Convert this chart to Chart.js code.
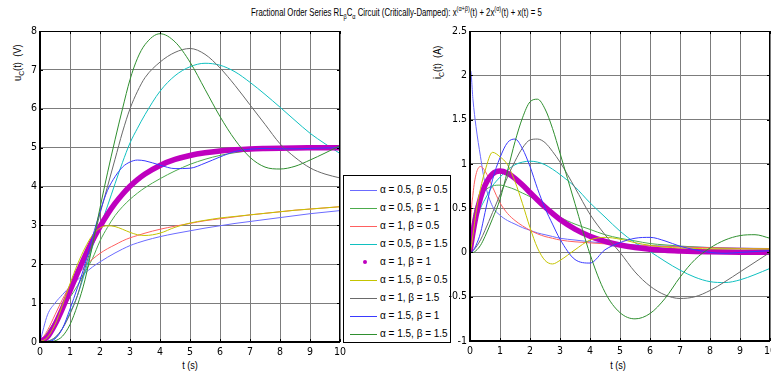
<!DOCTYPE html>
<html>
<head>
<meta charset="utf-8">
<script src="https://cdn.jsdelivr.net/npm/chart.js@4.4.1/dist/chart.umd.min.js"></script>
<style>
  body { margin: 0; background: #fff; }
  #wrap { position: relative; width: 771px; height: 376px; overflow: hidden; font-family: "Liberation Sans", Arial, sans-serif; color: #000; }
  canvas { position: absolute; top: 0; }
  #uChart { left: 0; z-index: 1; }
  #iChart { left: 430px; z-index: 3; }
  .narrow { font-family: "Liberation Sans", Arial, sans-serif; }
  #title { position: absolute; top: 4px; left: 0; width: 792px; text-align: center; font-size: 10.5px; white-space: nowrap; }
  #title span { display: inline-block; transform: scaleX(0.74); transform-origin: center; }
  #title sub, #title sup { font-size: 7.5px; }
  .ylab { position: absolute; font-size: 11px; line-height: 13px; white-space: nowrap; transform-origin: left top; transform: rotate(-90deg) scaleX(0.85); }
  .ylab sub { font-size: 8px; }
  .xlab { position: absolute; top: 359px; width: 40px; text-align: center; font-size: 11px; line-height: 13px; transform: scaleX(0.83); }
  #legend { position: absolute; left: 343px; top: 175px; width: 106px; height: 166px; border: 1px solid #000; background: #fff; font-size: 10px; z-index: 2; }
  .row { position: absolute; left: 0; width: 100%; height: 14px; }
  .swatch { position: absolute; left: 6px; top: 7px; width: 27px; height: 0; border-top: 1px solid; }
  .dot { position: absolute; left: 19px; top: 5px; width: 4px; height: 4px; border-radius: 2px; }
  .lbl { position: absolute; left: 36px; top: 0; line-height: 14px; white-space: nowrap; }
</style>
</head>
<body>
<div id="wrap">
  <canvas id="uChart" width="354" height="376"></canvas>
  <canvas id="iChart" width="341" height="376"></canvas>
  <div id="title" class="narrow"><span>Fractional Order Series RL<sub>β</sub>C<sub>α</sub> Circuit (Critically-Damped): x<sup>(α+β)</sup>(t) + 2x<sup>(α)</sup>(t) + x(t) = 5</span></div>
  <div class="ylab narrow" style="left:11px; top:81px;">u<sub>C</sub>(t)&nbsp;&nbsp;(V)</div>
  <div class="ylab narrow" style="left:431px; top:79px;">i<sub>C</sub>(t)&nbsp;&nbsp;(A)</div>
  <div class="xlab narrow" style="left:170px;">t (s)</div>
  <div class="xlab narrow" style="left:598px;">t (s)</div>
  <div id="legend"></div>
</div>
<script>
// time grids (s)
const tU = [0, 0.25, 0.5, 0.75, 1, 1.25, 1.5, 1.75, 2, 2.25, 2.5, 2.75, 3, 3.25, 3.5, 4, 4.5, 5, 5.5, 6, 6.5, 7, 7.5, 8, 8.5, 9, 9.5, 10]
const tI = [0, 0.02, 0.1, 0.2, 0.35, 0.5, 0.75, 1, 1.25, 1.5, 1.75, 2, 2.25, 2.5, 2.75, 3, 3.5, 4, 4.5, 5, 5.5, 6, 6.5, 7, 7.5, 8, 8.5, 9, 9.5, 10]

const labels = [
  "α = 0.5, β = 0.5", "α = 0.5, β = 1", "α = 1, β = 0.5",
  "α = 0.5, β = 1.5", "α = 1, β = 1", "α = 1.5, β = 0.5",
  "α = 1, β = 1.5", "α = 1.5, β = 1", "α = 1.5, β = 1.5"
]
const colors = ["#6b6bff", "#4cab4c", "#ff6060", "#10c0c0", "#bf00bf", "#c4c400", "#6a6a6a", "#3a3aff", "#2f8f2f"]

// capacitor voltage uC(t), V
const uC1 = [0, 0.7, 1.0, 1.22, 1.42, 1.6, 1.77, 1.93, 2.06, 2.18, 2.29, 2.39, 2.48, 2.55, 2.61, 2.71, 2.79, 2.86, 2.93, 2.99, 3.05, 3.1, 3.15, 3.2, 3.25, 3.3, 3.34, 3.38]
const uC2 = [0, 0.25, 0.55, 0.85, 1.15, 1.45, 1.8, 2.15, 2.6, 2.95, 3.25, 3.48, 3.67, 3.83, 3.97, 4.2, 4.4, 4.57, 4.7, 4.8, 4.87, 4.92, 4.96, 4.98, 5.0, 5.02, 5.04, 5.05]
const uC3 = [0, 0.3, 0.7, 1.1, 1.45, 1.72, 1.95, 2.13, 2.28, 2.4, 2.5, 2.6, 2.68, 2.74, 2.8, 2.9, 2.98, 3.05, 3.12, 3.17, 3.22, 3.27, 3.31, 3.35, 3.39, 3.42, 3.45, 3.48]
const uC4 = [0, 0.02, 0.1, 0.35, 0.75, 1.2, 1.8, 2.45, 2.95, 3.5, 4.07, 4.62, 5.12, 5.5, 5.85, 6.45, 6.85, 7.08, 7.17, 7.12, 6.95, 6.68, 6.37, 6.04, 5.7, 5.37, 5.1, 4.85]
const uC5 = [0, 0.133, 0.451, 0.866, 1.321, 1.777, 2.211, 2.611, 2.97, 3.287, 3.564, 3.801, 4.004, 4.176, 4.321, 4.542, 4.695, 4.798, 4.867, 4.913, 4.944, 4.964, 4.976, 4.985, 4.991, 4.994, 4.996, 4.998]
const uC6 = [0, 0.12, 0.45, 0.95, 1.5, 2.0, 2.42, 2.75, 2.93, 2.99, 2.97, 2.9, 2.82, 2.76, 2.74, 2.8, 2.95, 3.06, 3.13, 3.19, 3.23, 3.27, 3.31, 3.35, 3.39, 3.42, 3.45, 3.48]
const uC7 = [0, 0.02, 0.12, 0.35, 0.72, 1.2, 1.9, 2.55, 3.3, 4.0, 4.7, 5.4, 6.0, 6.45, 6.8, 7.2, 7.45, 7.55, 7.4, 7.05, 6.6, 6.1, 5.6, 5.1, 4.75, 4.48, 4.32, 4.22]
const uC8 = [0, 0.01, 0.08, 0.35, 0.85, 1.4, 2.0, 2.7, 3.35, 3.9, 4.25, 4.5, 4.63, 4.68, 4.66, 4.55, 4.46, 4.47, 4.6, 4.76, 4.9, 4.96, 4.98, 4.97, 4.97, 4.98, 4.99, 5.0]
const uC9 = [0, 0, 0.03, 0.15, 0.45, 0.95, 1.6, 2.5, 3.45, 4.35, 5.2, 6.0, 6.75, 7.3, 7.65, 7.93, 7.72, 7.2, 6.5, 5.8, 5.2, 4.75, 4.5, 4.45, 4.52, 4.68, 4.86, 5.05]

// capacitor current iC(t), A
const iC1 = [0, 2.05, 1.72, 1.42, 1.08, 0.78, 0.52, 0.42, 0.36, 0.32, 0.28, 0.25, 0.22, 0.2, 0.18, 0.16, 0.14, 0.12, 0.105, 0.095, 0.085, 0.078, 0.072, 0.066, 0.06, 0.056, 0.052, 0.049, 0.046, 0.044]
const iC2 = [0, 0.15, 0.38, 0.52, 0.63, 0.7, 0.75, 0.76, 0.74, 0.71, 0.67, 0.63, 0.58, 0.52, 0.46, 0.4, 0.32, 0.26, 0.2, 0.16, 0.13, 0.1, 0.085, 0.072, 0.062, 0.054, 0.048, 0.043, 0.039, 0.036]
const iC3 = [0, 0.3, 0.66, 0.88, 0.97, 0.92, 0.74, 0.56, 0.44, 0.36, 0.3, 0.25, 0.21, 0.18, 0.16, 0.14, 0.12, 0.108, 0.097, 0.088, 0.08, 0.073, 0.067, 0.062, 0.057, 0.053, 0.05, 0.047, 0.044, 0.042]
const iC4 = [0, 0.05, 0.2, 0.35, 0.5, 0.6, 0.75, 0.85, 0.93, 0.99, 1.02, 1.03, 1.02, 0.99, 0.94, 0.88, 0.74, 0.56, 0.4, 0.24, 0.11, 0.01, -0.1, -0.2, -0.28, -0.33, -0.34, -0.31, -0.25, -0.18]
const iC5 = [0, 0.049, 0.226, 0.409, 0.617, 0.758, 0.886, 0.92, 0.895, 0.837, 0.76, 0.677, 0.593, 0.513, 0.44, 0.373, 0.264, 0.183, 0.125, 0.084, 0.056, 0.037, 0.024, 0.016, 0.01, 0.0067, 0.0043, 0.0028, 0.0018, 0.0011]
const iC6 = [0, 0.02, 0.2, 0.45, 0.72, 0.92, 1.13, 1.08, 0.99, 0.8, 0.55, 0.28, 0.05, -0.09, -0.13, -0.09, 0.03, 0.14, 0.17, 0.15, 0.11, 0.08, 0.06, 0.05, 0.045, 0.04, 0.04, 0.04, 0.04, 0.04]
const iC7 = [0, 0, 0.02, 0.06, 0.14, 0.25, 0.45, 0.65, 0.85, 1.03, 1.18, 1.27, 1.28, 1.24, 1.14, 1.02, 0.73, 0.43, 0.2, 0.0, -0.22, -0.38, -0.48, -0.52, -0.5, -0.43, -0.33, -0.22, -0.11, 0.0]
const iC8 = [0, 0, 0.02, 0.08, 0.22, 0.45, 0.82, 1.07, 1.24, 1.28, 1.17, 0.97, 0.72, 0.5, 0.32, 0.15, -0.08, -0.12, 0.03, 0.11, 0.16, 0.17, 0.13, 0.07, 0.03, 0.0, -0.01, 0.0, 0.01, 0.02]
const iC9 = [0, 0, 0, 0.02, 0.08, 0.18, 0.38, 0.6, 0.92, 1.25, 1.52, 1.7, 1.73, 1.62, 1.4, 1.12, 0.55, -0.02, -0.45, -0.68, -0.75, -0.69, -0.52, -0.28, -0.08, 0.05, 0.14, 0.19, 0.2, 0.16]

const TICK_FONT = { family: "'DejaVu Sans Condensed', 'Liberation Sans', sans-serif", size: 10.5 }

function buildSets (t, series) {
  return series.map((v, k) => ({
    label: labels[k],
    data: t.map((x, n) => ({ x, y: v[n] })),
    borderColor: colors[k],
    backgroundColor: colors[k],
    borderWidth: k === 4 ? 5.5 : 1,
    pointRadius: 0,
    fill: false,
    cubicInterpolationMode: "monotone",
    order: 9 - k
  }))
}

// matlab-ish box: thick left/bottom, thin top/right, inward ticks
const framePlugin = {
  id: "frame",
  afterDatasetsDraw (chart) {
    const { ctx, chartArea: a } = chart
    const xs = chart.scales.x
    const ys = chart.scales.y
    ctx.save()
    ctx.strokeStyle = "#000"
    ctx.lineWidth = 1
    ctx.beginPath()
    ctx.moveTo(a.left, a.top + 0.5); ctx.lineTo(a.right, a.top + 0.5)
    ctx.moveTo(a.right - 0.5, a.top); ctx.lineTo(a.right - 0.5, a.bottom)
    xs.ticks.forEach(tk => {
      const px = Math.round(xs.getPixelForValue(tk.value)) + 0.5
      ctx.moveTo(px, a.top); ctx.lineTo(px, a.top + 3)
      ctx.moveTo(px, a.bottom); ctx.lineTo(px, a.bottom - 3)
    })
    ys.ticks.forEach(tk => {
      const py = Math.round(ys.getPixelForValue(tk.value)) + 0.5
      ctx.moveTo(a.left, py); ctx.lineTo(a.left + 3, py)
      ctx.moveTo(a.right, py); ctx.lineTo(a.right - 3, py)
    })
    ctx.stroke()
    ctx.lineWidth = 2
    ctx.beginPath()
    ctx.moveTo(a.left, a.top); ctx.lineTo(a.left, a.bottom); ctx.lineTo(a.right, a.bottom)
    ctx.stroke()
    ctx.restore()
  }
}

function makeChart (id, t, series, yMin, yMax, yStep, padRight, padBottom) {
  return new Chart(document.getElementById(id), {
    type: "line",
    data: { datasets: buildSets(t, series) },
    plugins: [framePlugin],
    options: {
      responsive: false,
      animation: false,
      devicePixelRatio: 1,
      layout: { padding: { left: 6, right: padRight, top: 31, bottom: padBottom } },
      plugins: { legend: { display: false }, tooltip: { enabled: false } },
      scales: {
        x: {
          type: "linear",
          min: 0,
          max: 10,
          ticks: { stepSize: 1, padding: 4, color: "#000", font: TICK_FONT, callback: v => String(v) },
          grid: { color: "#7c7c7c", lineWidth: 1, drawTicks: false },
          border: { display: false },
          afterFit: s => { s.height = 34; s.paddingLeft = 0; s.paddingRight = 0 }
        },
        y: {
          min: yMin,
          max: yMax,
          ticks: { stepSize: yStep, padding: 3, color: "#000", font: TICK_FONT, callback: v => String(v) },
          grid: { color: "#7c7c7c", lineWidth: 1, drawTicks: false },
          border: { display: false },
          afterFit: s => { s.width = 34; s.paddingTop = 0; s.paddingBottom = 0 }
        }
      }
    }
  })
}

makeChart("uChart", tU, [uC1, uC2, uC3, uC4, uC5, uC6, uC7, uC8, uC9], 0, 8, 1, 14, 0)
makeChart("iChart", tI, [iC1, iC2, iC3, iC4, iC5, iC6, iC7, iC8, iC9], -1, 2.5, 0.5, 1, 1)

// legend box between the two axes
const legend = document.getElementById("legend")
labels.forEach((text, k) => {
  const row = document.createElement("div")
  row.className = "row"
  row.style.top = (7 + 18 * k) + "px"
  const mark = document.createElement("div")
  if (k === 4) {
    mark.className = "dot"
    mark.style.background = colors[k]
  } else {
    mark.className = "swatch"
    mark.style.borderTopColor = colors[k]
  }
  const lbl = document.createElement("div")
  lbl.className = "lbl"
  lbl.textContent = text
  row.appendChild(mark)
  row.appendChild(lbl)
  legend.appendChild(row)
})
</script>
</body>
</html>
